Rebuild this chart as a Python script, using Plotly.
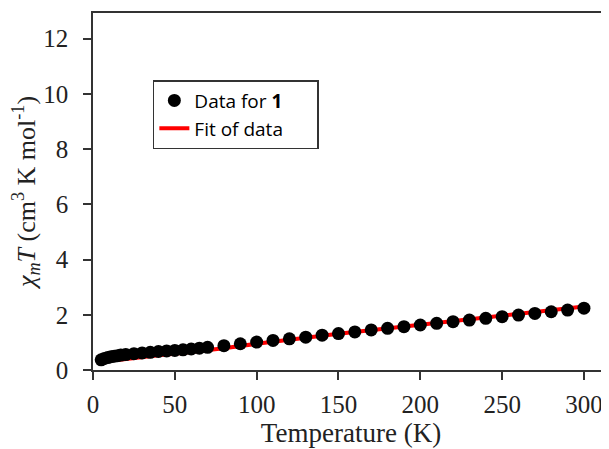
import plotly.graph_objects as go

temp_data = [5, 7, 9, 11, 13, 15, 17, 20, 25, 30, 35, 40, 45, 50, 55, 60, 65, 70,
             80, 90, 100, 110, 120, 130, 140, 150, 160, 170, 180, 190, 200,
             210, 220, 230, 240, 250, 260, 270, 280, 290, 300]
chiT_data = [0.37, 0.42, 0.45, 0.48, 0.50, 0.52, 0.54, 0.56, 0.59, 0.62, 0.64, 0.67,
             0.69, 0.71, 0.73, 0.76, 0.79, 0.82,
             0.88, 0.95, 1.01, 1.07, 1.13, 1.19, 1.26, 1.32, 1.38, 1.45, 1.51, 1.57, 1.63,
             1.69, 1.75, 1.81, 1.87, 1.93, 1.99, 2.05, 2.11, 2.17, 2.24]
temp_fit = [15, 20, 30, 40, 50, 60, 70, 80, 100, 120, 150, 200, 250, 300]
chiT_fit = [0.36, 0.40, 0.47, 0.53, 0.59, 0.65, 0.72, 0.79, 0.95, 1.10, 1.31, 1.64, 1.96, 2.30]

x_ticks = [0, 50, 100, 150, 200, 250, 300]
y_ticks = [0, 2, 4, 6, 8, 10, 12]

SERIF = "Liberation Serif"

fig = go.Figure()
fig.add_trace(go.Scatter(x=temp_fit, y=chiT_fit, mode="lines", name="Fit of data",
                         line=dict(color="#ff0000", width=4), showlegend=False))
fig.add_trace(go.Scatter(x=temp_data, y=chiT_data, mode="markers",
                         name="Data for <b>1</b>\u00a0\u00a0\u00a0\u00a0\u00a0\u00a0",
                         marker=dict(color="black", size=13)))
fig.add_trace(go.Scatter(x=[None], y=[None], mode="lines", name="Fit of data",
                         line=dict(color="#ff0000", width=4)))

fig.update_layout(
    width=609, height=449,
    margin=dict(l=85, r=8, t=5, b=87, autoexpand=False),
    paper_bgcolor="white", plot_bgcolor="white",
    font=dict(family=SERIF, size=25, color="#222"),
    showlegend=True,
    legend=dict(x=0.116, y=0.812, xanchor="left", yanchor="top",
                bordercolor="#333", borderwidth=1.5, bgcolor="white",
                font=dict(family="Open Sans", size=19, color="black"),
                traceorder="normal", itemwidth=30, tracegroupgap=0),
)
fig.update_xaxes(range=[0, 315.3], tickvals=x_ticks, ticks="outside", ticklen=8,
                 tickwidth=1.5, tickcolor="#333", showline=True, linecolor="#333",
                 linewidth=1.5, mirror=True, showgrid=False, zeroline=False,
                 automargin=False, ticklabelstandoff=3,
                 tickfont_family=SERIF, tickfont_size=25,
                 title_text="Temperature (K)", title_font_size=27, title_standoff=2)
fig.update_yaxes(range=[0, 12.93], tickvals=y_ticks, ticks="outside", ticklen=8,
                 tickwidth=1.5, tickcolor="#333", showline=True, linecolor="#333",
                 linewidth=1.5, mirror=False, showgrid=False, zeroline=False,
                 automargin=False, ticklabelstandoff=10,
                 tickfont_family=SERIF, tickfont_size=25,
                 title_text="<i>χ<sub>m</sub>T</i> (cm<sup>3</sup> K mol<sup>-1</sup>)",
                 title_font_size=26, title_standoff=6)
fig.write_html("out.html")
